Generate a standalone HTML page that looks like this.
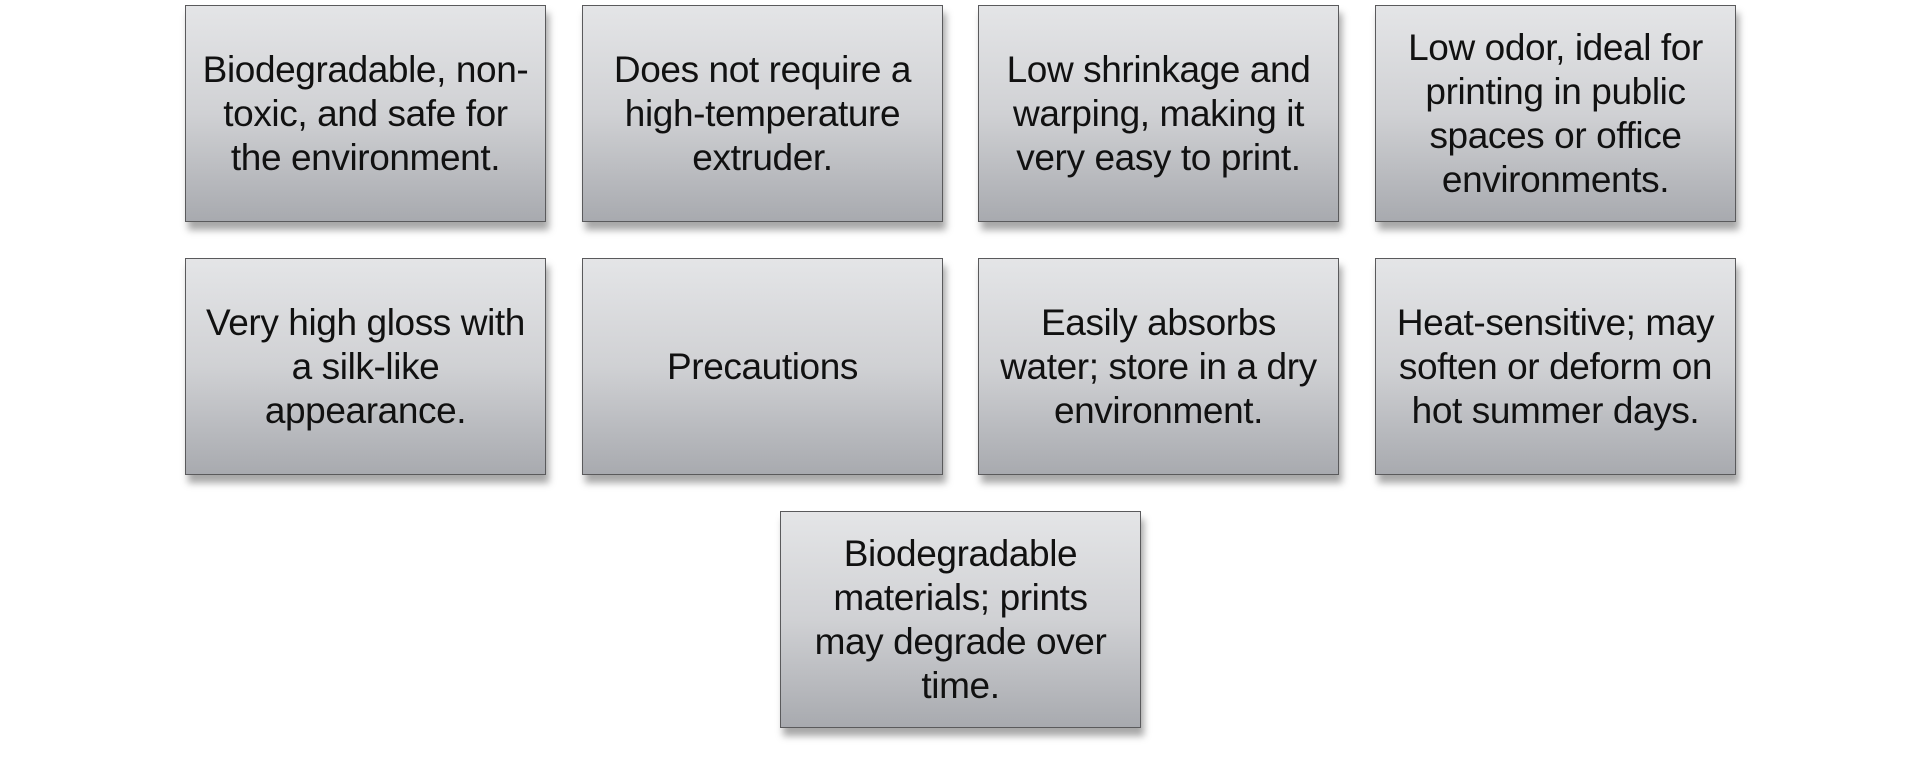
<!DOCTYPE html>
<html><head><meta charset="utf-8"><style>
body{margin:0;width:1920px;height:759px;background:#fff;position:relative;overflow:hidden;font-family:"Liberation Sans",sans-serif}
.b{position:absolute;width:359px;height:215px;border:1px solid #5a5a5c;background:linear-gradient(#e4e5e7,#d0d1d4 50%,#a8aaaf);box-shadow:3px 8px 7px rgba(0,0,0,0.35);display:flex;align-items:center;justify-content:center;text-align:center;font-size:37px;line-height:44px;color:#111;letter-spacing:-0.4px;white-space:nowrap}
</style></head><body>
<div class="b" style="left:185px;top:5px">Biodegradable, non-<br>toxic, and safe for<br>the environment.</div>
<div class="b" style="left:582px;top:5px">Does not require a<br>high-temperature<br>extruder.</div>
<div class="b" style="left:978px;top:5px">Low shrinkage and<br>warping, making it<br>very easy to print.</div>
<div class="b" style="left:1375px;top:5px">Low odor, ideal for<br>printing in public<br>spaces or office<br>environments.</div>
<div class="b" style="left:185px;top:258px">Very high gloss with<br>a silk-like<br>appearance.</div>
<div class="b" style="left:582px;top:258px">Precautions</div>
<div class="b" style="left:978px;top:258px">Easily absorbs<br>water; store in a dry<br>environment.</div>
<div class="b" style="left:1375px;top:258px">Heat-sensitive; may<br>soften or deform on<br>hot summer days.</div>
<div class="b" style="left:780px;top:511px">Biodegradable<br>materials; prints<br>may degrade over<br>time.</div>
</body></html>
